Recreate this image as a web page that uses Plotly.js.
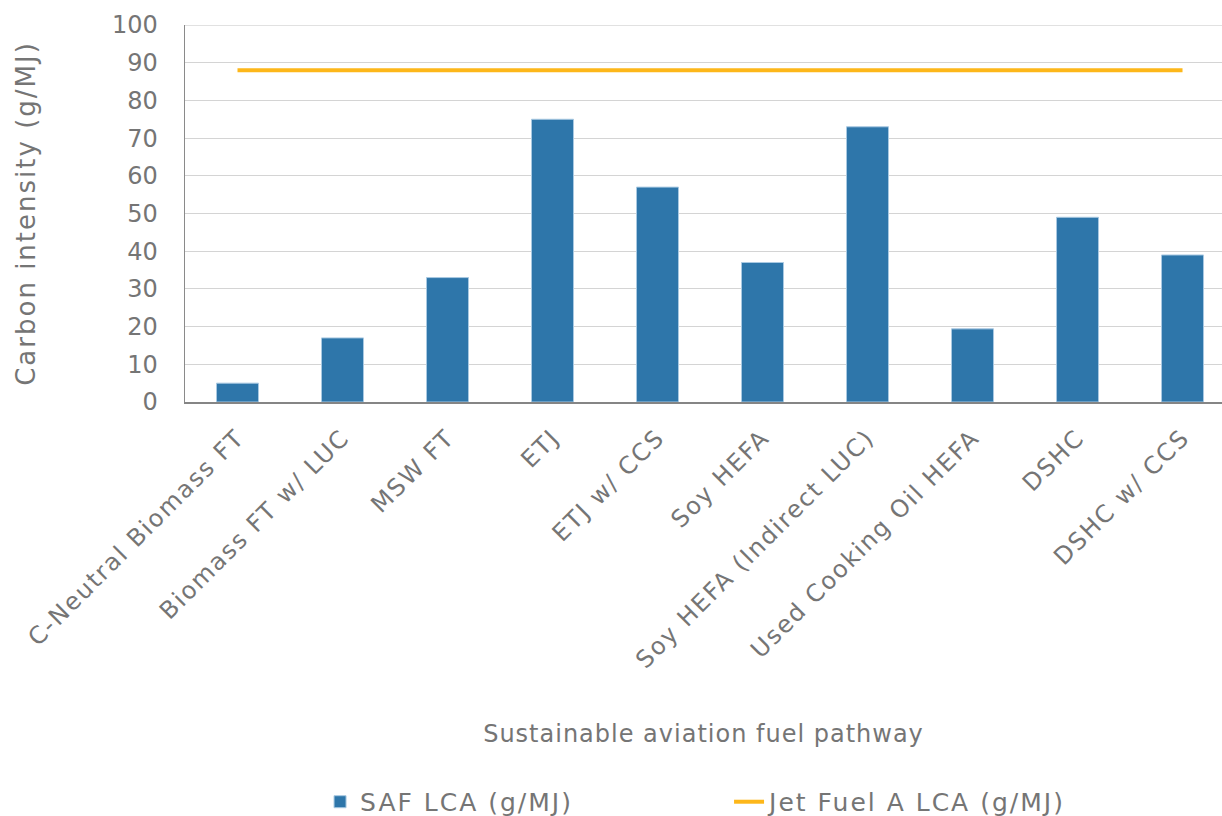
<!DOCTYPE html>
<html>
<head>
<meta charset="utf-8">
<script src="https://cdn.plot.ly/plotly-3.0.1.min.js"></script>
<style>
  html, body { margin: 0; padding: 0; background: #ffffff; overflow: hidden; }
  #chart { width: 1222px; height: 816px; }
  /* wider tracking for the labels */
  #chart .xtick text { letter-spacing: 1.8px; }
  #chart .xtitle { letter-spacing: 1px; }
  #chart .ytitle { letter-spacing: 2px; }
  #chart .legendtext { letter-spacing: 2px; }
</style>
</head>
<body>
<div id="chart"></div>
<script>
// Fuel pathways on the x axis
const pathways = [
  "C-Neutral Biomass FT",
  "Biomass FT w/ LUC",
  "MSW FT",
  "ETJ",
  "ETJ w/ CCS",
  "Soy HEFA",
  "Soy HEFA (Indirect LUC)",
  "Used Cooking Oil HEFA",
  "DSHC",
  "DSHC w/ CCS"
];

// Life-cycle carbon intensity of each SAF pathway (g/MJ)
const safLca = [5, 17, 33, 75, 57, 37, 73, 19.4, 49, 39];

// Conventional Jet Fuel A reference (g/MJ)
const jetFuelLca = [88, 88, 88, 88, 88, 88, 88, 88, 88, 88];

const yTicks = [0, 10, 20, 30, 40, 50, 60, 70, 80, 90, 100];

const FONT = "'DejaVu Sans', 'Open Sans', sans-serif";
const TEXT = "#757575";

const traces = [
  {
    type: "bar",
    name: "SAF LCA (g/MJ)",
    x: pathways,
    y: safLca,
    marker: { color: "#2e76aa", line: { color: "#a9c9e2", width: 1 } },
    hoverinfo: "x+y"
  },
  {
    type: "scatter",
    mode: "lines",
    name: "Jet Fuel A LCA (g/MJ)",
    x: pathways,
    y: jetFuelLca,
    line: { color: "#fdb71a", width: 4 },
    hoverinfo: "x+y"
  }
];

const layout = {
  width: 1222,
  height: 816,
  margin: { l: 185, r: 0, t: 25, b: 414 },
  paper_bgcolor: "#ffffff",
  plot_bgcolor: "#ffffff",
  font: { family: FONT, color: TEXT, size: 22 },
  bargap: 0.6,
  showlegend: true,
  legend: {
    orientation: "h",
    xref: "container",
    yref: "container",
    x: 0.5966,
    xanchor: "center",
    y: 0.0172,
    yanchor: "middle",
    font: { family: FONT, size: 25, color: TEXT },
    entrywidth: 364,
    entrywidthmode: "pixels",
    itemwidth: 30,
    traceorder: "normal"
  },
  xaxis: {
    type: "category",
    range: [-0.5, 9.376],
    tickangle: -45,
    tickfont: { family: FONT, size: 24, color: TEXT },
    ticks: "",
    ticklabelstandoff: 10,
    showgrid: false,
    showline: true,
    linecolor: "#858585",
    linewidth: 2,
    zeroline: false,
    automargin: false,
    title: {
      text: "Sustainable aviation fuel pathway",
      font: { family: FONT, size: 24, color: TEXT },
      standoff: 82
    }
  },
  yaxis: {
    range: [0, 100],
    tickvals: yTicks,
    ticktext: yTicks.map(String),
    tickfont: { family: FONT, size: 24, color: TEXT },
    ticks: "",
    ticklabelstandoff: 21,
    showgrid: true,
    gridcolor: "#d4d4d4",
    gridwidth: 1.2,
    showline: true,
    linecolor: "#8a8a8a",
    linewidth: 1.5,
    zeroline: false,
    automargin: false,
    title: {
      text: "Carbon intensity (g/MJ)",
      font: { family: FONT, size: 26, color: TEXT },
      standoff: 69
    }
  },
  shapes: [
    { type: "line", xref: "paper", yref: "y", x0: 0, x1: 1, y0: 100, y1: 100,
      line: { color: "#c4c4c4", width: 1.2 }, layer: "below" }
  ]
};

Plotly.newPlot("chart", traces, layout, { displayModeBar: false, staticPlot: true });
</script>
</body>
</html>
